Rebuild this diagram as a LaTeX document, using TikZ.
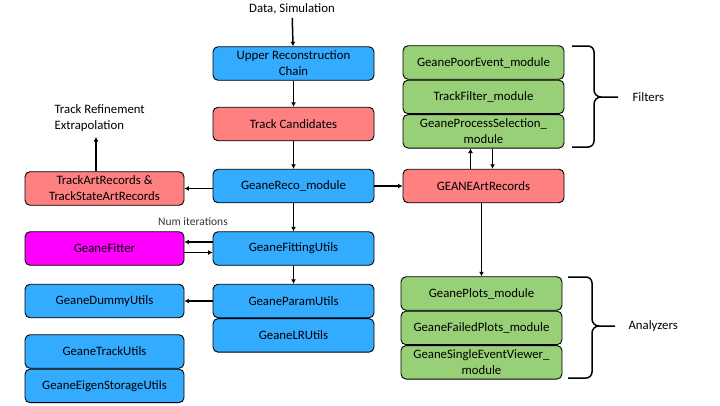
\documentclass[tikz,border=0pt]{standalone}
\usepackage{fontspec}
\setmainfont{Carlito}
\usetikzlibrary{arrows,positioning,calc,arrows.meta}
\tikzset{>=latex}
\definecolor{modblue}{RGB}{51,171,255}
\definecolor{recred}{RGB}{255,128,128}
\definecolor{filtgreen}{RGB}{151,208,119}
\definecolor{fitmag}{RGB}{255,0,255}
\colorlet{modcol}{modblue}
\colorlet{reccol}{recred}
\colorlet{filtcol}{filtgreen}
\tikzset{box/.style={draw,rounded corners=5pt,line width=0.9pt,minimum width=161pt,minimum height=33.5pt,align=center,inner sep=1pt,font=\fontsize{12.8}{16}\selectfont}}
\tikzset{modbox/.style={box,fill=modcol},recbox/.style={box,fill=reccol},filtbox/.style={box,fill=filtcol}}
\tikzset{flow/.style={-{Latex[length=4.5pt,width=5pt]},line width=1.5pt},bracket/.style={line width=1.5pt}}
\begin{document}
\begin{tikzpicture}[>=latex',x=1pt,y=-1pt]
    \useasboundingbox (0,0) rectangle (720,405);
    \begin{scope}
        % main chain
        \node[font=\fontsize{12.8}{16}\selectfont] at (292,9) (data) {Data, Simulation};
        \node[modbox] at (293.5,63.5) (upper) {Upper Reconstruction\\Chain};
        \node[recbox] at (293.5,124) (cands) {Track Candidates};
        \node[modbox] at (293.5,186) (reco) {GeaneReco\_module};
        \node[recbox,minimum width=159pt] at (104.5,188.5) (trackart) {TrackArtRecords \&\\TrackStateArtRecords};
        \node[anchor=west,align=left,font=\fontsize{12.8}{16}\selectfont] at (51,118) (refine) {Track Refinement\\Extrapolation};
        \node[shape=coordinate] at (96,137) (refup) {};
        \node[recbox] at (483.5,186) (geaneart) {GEANEArtRecords};
        % filters
        \node[filtbox] at (483.5,62.5) (poorevt) {GeanePoorEvent\_module};
        \node[filtbox,below=0pt of poorevt] (trkfilt) {TrackFilter\_module};
        \node[filtbox,below=0pt of trkfilt] (procsel) {GeaneProcessSelection\_\\module};
        \node[anchor=west,font=\fontsize{12.8}{16}\selectfont] at (629,97) (filters) {Filters};
        % fitting
        \node[box,fill=fitmag,minimum width=159pt] at (104.5,248.5) (fitter) {GeaneFitter};
        \node[modbox] at (293.5,248.5) (fitutils) {GeaneFittingUtils};
        \node[font=\fontsize{11.5}{13}\selectfont,text=black!80] at (193,222) (numit) {Num iterations};
        \node[modbox] at (293.5,301) (param) {GeaneParamUtils};
        \node[modbox,below=0pt of param] (lrutils) {GeaneLRUtils};
        \node[modbox,minimum width=159pt] at (104.5,301) (dummy) {GeaneDummyUtils};
        \node[modbox,minimum width=159pt] at (104.5,351.5) (trkutils) {GeaneTrackUtils};
        \node[modbox,minimum width=159pt,below=0pt of trkutils] (eigen) {GeaneEigenStorageUtils};
        % analyzers
        \node[filtbox] at (481.5,293.5) (plots) {GeanePlots\_module};
        \node[filtbox,below=0pt of plots] (failplots) {GeaneFailedPlots\_module};
        \node[filtbox,below=0pt of failplots] (viewer) {GeaneSingleEventViewer\_\\module};
        \node[anchor=west,font=\fontsize{12.8}{16}\selectfont] at (625,326) (analyzers) {Analyzers};
        % arrows
        \draw[flow] (data) -- (upper);
        \draw[flow] (upper) -- (cands);
        \draw[flow] (cands) -- (reco);
        \draw[flow] (trackart.east -| reco.west) -- (trackart.east);
        \draw[flow] (refup |- trackart.north) -- (refup);
        \draw[flow] (reco) -- (geaneart);
        \draw[flow] ([xshift=-13pt]geaneart.north) -- ([xshift=-13pt]procsel.south);
        \draw[flow] ([xshift=9pt]procsel.south) -- ([xshift=9pt]geaneart.north);
        \draw[flow] (reco) -- (fitutils);
        \draw[flow] ([yshift=6.5pt]fitutils.west) -- ([yshift=6.5pt]fitter.east);
        \draw[flow] ([yshift=-4pt]fitter.east) -- ([yshift=-4pt]fitutils.west);
        \draw[flow] (fitutils) -- (param);
        \draw[flow] (param) -- (dummy);
        \draw[flow] (geaneart.south -| plots.north) -- (plots.north);
        % braces
        \draw[bracket] (572,46) -- (588,46) to[out=0,in=90] (594,52) -- (594,90) to[out=-90,in=180] (601,97) -- (618,97);
        \draw[bracket] (601,97) to[out=180,in=90] (594,104) -- (594,141) to[out=-90,in=0] (588,147) -- (572,147);
        \draw[bracket] (568,277) -- (586,277) to[out=0,in=90] (592,283) -- (592,319) to[out=-90,in=180] (599,326) -- (615,326);
        \draw[bracket] (599,326) to[out=180,in=90] (592,333) -- (592,372) to[out=-90,in=0] (586,378) -- (568,378);
    \end{scope}
\end{tikzpicture}
\end{document}
